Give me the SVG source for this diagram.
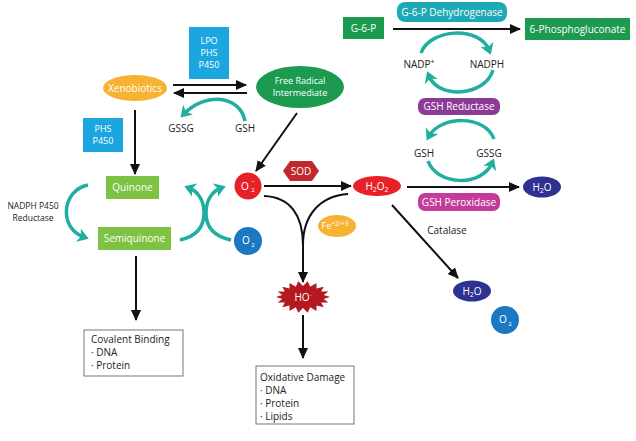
<svg xmlns="http://www.w3.org/2000/svg" width="636" height="441" viewBox="0 0 636 441">
<style>
text{font-family:"Open Sans","Liberation Sans",sans-serif;font-size:10px;text-anchor:middle}
.w{fill:#fff}
.k{fill:#222}
.s{font-size:9px}
.blk{stroke:#111;stroke-width:2;fill:none;marker-end:url(#ah)}
.teal{stroke:#1fae9f;stroke-width:3.5;fill:none;marker-end:url(#th)}
.box{fill:#fff;stroke:#777;stroke-width:1}
</style>
<defs>
<marker id="ah" markerUnits="userSpaceOnUse" markerWidth="12" markerHeight="12" refX="10" refY="5" orient="auto"><path d="M0,0 L11,5 L0,10 z" fill="#111"/></marker>
<marker id="th" markerUnits="userSpaceOnUse" markerWidth="14" markerHeight="16" refX="6" refY="7" orient="auto"><path d="M0,0 L11,7 L0,14 L3,7 z" fill="#1fae9f"/></marker>
</defs>

<g id="connectors">
<path class="blk" d="M173,85 L246,85"/>
<path class="blk" d="M247,93 L174,93"/>
<path class="blk" d="M135,110 L135,174"/>
<path class="blk" d="M297,113 L256,171"/>
<path class="blk" d="M264,186 L351,186"/>
<path class="blk" d="M264,196 C290,197 303,215 303,245 L303,282"/>
<path d="M348,194 C320,196 303,215 303,245" stroke="#111" stroke-width="2" fill="none"/>
<path class="blk" d="M303,315 L303,358"/>
<path class="blk" d="M136,256 L136,320"/>
<path class="blk" d="M407,187 L519,187"/>
<path class="blk" d="M392,205 L458,278"/>
<path class="blk" d="M393,29 L520,29"/>
<path class="teal" d="M245,121 C240,95 205,92 184,114"/>
<path class="teal" d="M88,185 C62,190 58,228 84,237"/>
<path class="teal" d="M180,240 C198,236 204,226 204,213 C204,199 197,191 189,188"/>
<path class="teal" d="M231,240 C212,236 206,226 206,213 C206,199 213,191 221,188"/>
<path class="teal" d="M421,53 C430,28 480,26 489,50"/>
<path class="teal" d="M493,70 C485,97 438,99 429,76"/>
<path class="teal" d="M494,139 C485,114 440,116 429,136"/>
<path class="teal" d="M428,161 C437,186 482,187 492,163"/>
</g>

<g id="xenobiotics"><ellipse cx="135" cy="88" rx="32" ry="13" fill="#f6b233"/><text class="w" x="135" y="91.5">Xenobiotics</text></g>
<g id="lpo"><rect x="189" y="27" width="40" height="52" fill="#1ba6df"/><text class="w s" x="209" y="44">LPO</text><text class="w s" x="209" y="56">PHS</text><text class="w s" x="209" y="68">P450</text></g>
<g id="free-radical"><ellipse cx="300" cy="87" rx="44" ry="21" fill="#1c9b50"/><text class="w s" x="300" y="84">Free Radical</text><text class="w s" x="300" y="96">Intermediate</text></g>
<g id="gssg1"><text class="k" x="181" y="132">GSSG</text></g>
<g id="gsh1"><text class="k" x="245" y="132">GSH</text></g>
<g id="phs"><rect x="83" y="118" width="40" height="34" fill="#1ba6df"/><text class="w s" x="103" y="132">PHS</text><text class="w s" x="103" y="144">P450</text></g>
<g id="quinone"><rect x="106" y="176" width="53" height="23" fill="#7dc243"/><text class="w" x="132.5" y="191">Quinone</text></g>
<g id="semiquinone"><rect x="98" y="227" width="73" height="23" fill="#7dc243"/><text class="w" x="134.5" y="242">Semiquinone</text></g>
<g id="reductase-label"><text class="k" x="33" y="209" style="font-size:8.5px">NADPH P450</text><text class="k" x="33" y="221" style="font-size:8.5px">Reductase</text></g>
<g id="o2-radical"><circle cx="248" cy="186" r="13.5" fill="#e82128"/><text class="w" x="245" y="190">O</text><text class="w" x="253" y="184" style="font-size:6px">−</text><text class="w" x="253" y="192" style="font-size:6px">2</text></g>
<g id="o2-a"><circle cx="248" cy="241" r="14" fill="#1a79c2"/><text class="w" x="246" y="244">O</text><text class="w" x="253" y="247" style="font-size:6px">2</text></g>
<g id="sod"><polygon points="283,171 290,161 312,161 319,171 312,181 290,181" fill="#c1272d"/><text class="w" x="301" y="174.5">SOD</text></g>
<g id="h2o2"><ellipse cx="377" cy="186" rx="24" ry="10" fill="#e82128"/><text class="w" x="377" y="189.5">H<tspan dy="2" style="font-size:7px">2</tspan><tspan dy="-2">O</tspan><tspan dy="2" style="font-size:7px">2</tspan></text></g>
<g id="fe"><ellipse cx="337" cy="226" rx="19" ry="11" fill="#f6b233"/><text class="w" x="335" y="229" style="font-size:9px">Fe<tspan dy="-3" style="font-size:6.5px">+2/+3</tspan></text></g>
<g id="ho"><polygon points="330,297 323.7,298.9 328.4,302.5 321.2,302.5 323.7,307.3 316.5,305.4 316.5,310.9 310.2,307.3 307.7,312.8 303,308 298.3,312.8 295.8,307.3 289.5,310.9 289.5,305.4 282.3,307.3 284.8,302.5 277.6,302.5 282.3,298.9 276,297 282.3,295.1 277.6,291.5 284.8,291.5 282.3,286.7 289.5,288.6 289.5,283.1 295.8,286.7 298.3,281.2 303,286 307.7,281.2 310.2,286.7 316.5,283.1 316.5,288.6 323.7,286.7 321.2,291.5 328.4,291.5 323.7,295.1" fill="#b3191f"/><text class="w" x="303" y="300.5">HO<tspan dy="-3" style="font-size:7px">·</tspan></text></g>
<g id="oxidative"><rect class="box" x="256" y="366" width="98" height="58"/><text class="k" x="260" y="381" style="text-anchor:start">Oxidative Damage</text><text class="k" x="260" y="394" style="text-anchor:start">· DNA</text><text class="k" x="260" y="407" style="text-anchor:start">· Protein</text><text class="k" x="260" y="420" style="text-anchor:start">· Lipids</text></g>
<g id="covalent"><rect class="box" x="84" y="330" width="99" height="46"/><text class="k" x="91" y="343" style="text-anchor:start">Covalent Binding</text><text class="k" x="91" y="356" style="text-anchor:start">· DNA</text><text class="k" x="91" y="369" style="text-anchor:start">· Protein</text></g>
<g id="g6p"><rect x="343" y="17" width="41" height="22" fill="#1c9b50"/><text class="w" x="363.5" y="31.5">G-6-P</text></g>
<g id="g6pd"><rect x="397" y="2" width="110" height="20" rx="8" fill="#1ea9b7"/><text class="w" x="452" y="15.5">G-6-P Dehydrogenase</text></g>
<g id="phosphogluconate"><rect x="525" y="18" width="105" height="22" fill="#1c9b50"/><text class="w" x="577.5" y="32.5">6-Phosphogluconate</text></g>
<g id="nadp"><text class="k" x="419" y="68">NADP<tspan dy="-4" style="font-size:7px">+</tspan></text></g>
<g id="nadph"><text class="k" x="487" y="68">NADPH</text></g>
<g id="gsh-reductase"><rect x="418" y="98" width="82" height="17" rx="7" fill="#8d3a97"/><text class="w" x="459" y="110">GSH Reductase</text></g>
<g id="gsh2"><text class="k" x="424" y="157">GSH</text></g>
<g id="gssg2"><text class="k" x="489" y="157">GSSG</text></g>
<g id="gsh-peroxidase"><rect x="418" y="193" width="82" height="18" rx="7" fill="#c43c9b"/><text class="w" x="459" y="205.5">GSH Peroxidase</text></g>
<g id="h2o-a"><ellipse cx="542" cy="187" rx="19" ry="10.5" fill="#2e3192"/><text class="w" x="542" y="190.5">H<tspan dy="2" style="font-size:7px">2</tspan><tspan dy="-2">O</tspan></text></g>
<g id="catalase"><text class="k" x="447" y="234">Catalase</text></g>
<g id="h2o-b"><ellipse cx="472" cy="291" rx="19" ry="10.5" fill="#2e3192"/><text class="w" x="472" y="294.5">H<tspan dy="2" style="font-size:7px">2</tspan><tspan dy="-2">O</tspan></text></g>
<g id="o2-b"><circle cx="505" cy="320" r="14" fill="#1a79c2"/><text class="w" x="503" y="323">O</text><text class="w" x="510" y="326" style="font-size:6px">2</text></g>
</svg>
